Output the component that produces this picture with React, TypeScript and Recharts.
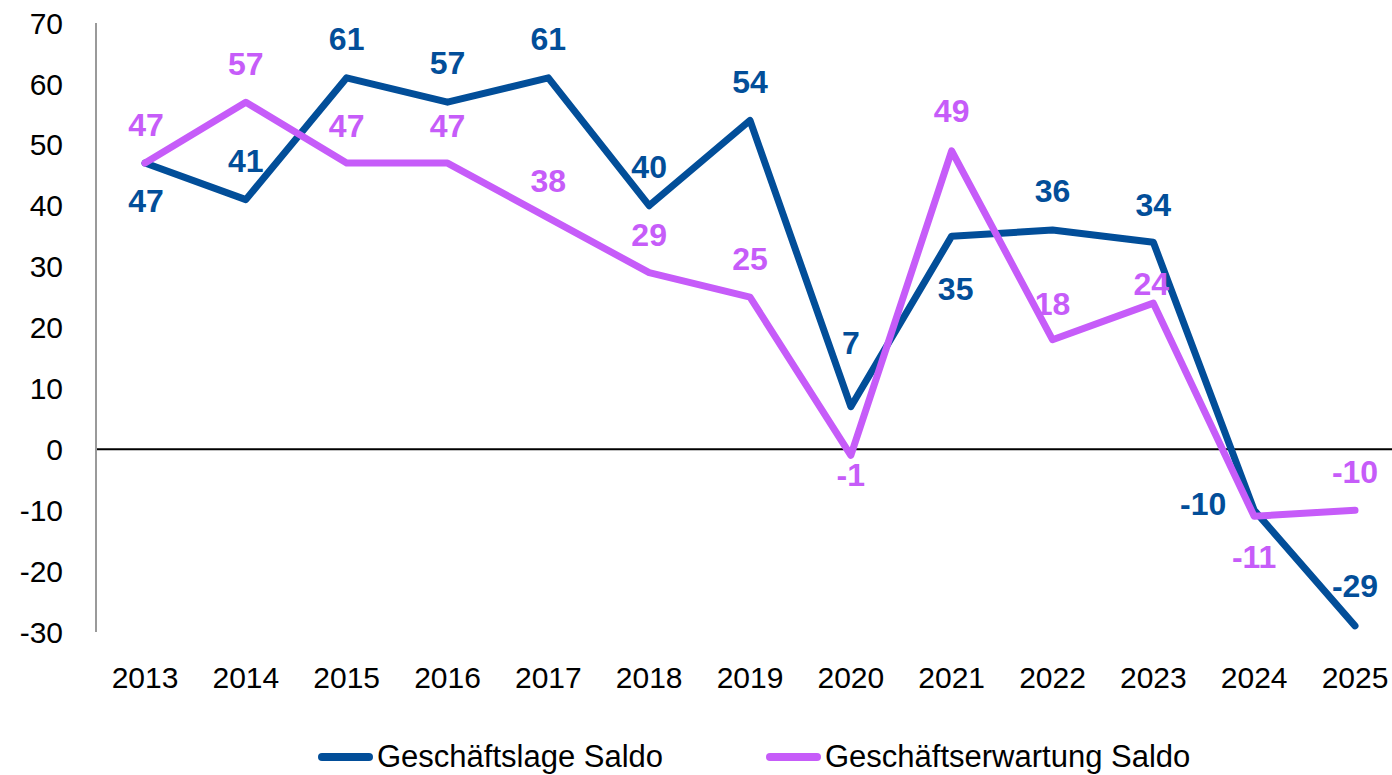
import React from 'react';
import { LineChart, Line, XAxis, YAxis, ReferenceLine, LabelList, Legend } from 'recharts';

const years = ['2013', '2014', '2015', '2016', '2017', '2018', '2019', '2020', '2021', '2022', '2023', '2024', '2025'];
const lageSaldo = [47, 41, 61, 57, 61, 40, 54, 7, 35, 36, 34, -10, -29];
const erwartungSaldo = [47, 57, 47, 47, 38, 29, 25, -1, 49, 18, 24, -11, -10];
const yTicks = [-30, -20, -10, 0, 10, 20, 30, 40, 50, 60, 70];
const seriesNames = ['Geschäftslage Saldo', 'Geschäftserwartung Saldo'];

const BLUE = '#024E99';
const VIOLET = '#C65CF9';
const FONT = '"Liberation Sans", Arial, Helvetica, sans-serif';

// label placement relative to each point (style only)
const lageLabelShift: [number, number][] = [
  [1, 38], [0, -39], [0, -39], [0, -39], [0, -39], [0, -39], [0, -38],
  [0, -64], [4, 53], [0, -39], [0, -37], [-51, -6], [0, -40],
];
const erwartungLabelShift: [number, number][] = [
  [1, -38], [0, -38], [0, -37], [0, -37], [0, -37], [0, -38], [0, -38],
  [0, 20], [0, -40], [0, -36], [-2, -19], [0, 41], [0, -38],
];

const data = years.map((year, i) => ({ year, lage: lageSaldo[i], erwartung: erwartungSaldo[i] }));

function makeLabel(color: string, shifts: [number, number][]) {
  return (props: any) => {
    const { x, y, value, index } = props;
    const [dx, dy] = shifts[index] ?? [0, -38];
    return (
      <text
        x={Number(x) + dx}
        y={Number(y) + dy + 11}
        textAnchor="middle"
        fill={color}
        fontSize={32}
        fontWeight={700}
        fontFamily={FONT}
      >
        {value}
      </text>
    );
  };
}

const legendItems = [
  { name: seriesNames[0], color: BLUE, left: 318 },
  { name: seriesNames[1], color: VIOLET, left: 766 },
];

const renderLegend = () => (
  <div style={{ position: 'relative', height: 36, width: 1392, fontFamily: FONT, fontSize: 31, color: '#000' }}>
    {legendItems.map((it) => (
      <div
        key={it.name}
        style={{ position: 'absolute', left: it.left, top: 0, height: 36, display: 'flex', alignItems: 'center', whiteSpace: 'nowrap' }}
      >
        <span style={{ display: 'inline-block', width: 55, height: 8, borderRadius: 4, background: it.color, marginRight: 4 }} />
        <span style={{ lineHeight: '36px' }}>{it.name}</span>
      </div>
    ))}
  </div>
);

export default function App() {
  return (
    <div style={{ position: 'absolute', left: 0, top: 0, width: 1392, height: 775, background: '#fff', overflow: 'hidden' }}>
      <LineChart width={1392} height={775} data={data} margin={{ top: 23, right: 0, bottom: 0, left: 0 }}>
        <XAxis
          dataKey="year"
          axisLine={false}
          tickLine={false}
          tickSize={0}
          tickMargin={35}
          height={107}
          interval={0}
          padding={{ left: 49, right: 37 }}
          tick={{ fill: '#000', fontSize: 30, fontFamily: FONT }}
        />
        <YAxis
          domain={[-30, 70]}
          ticks={yTicks}
          interval={0}
          width={96}
          axisLine={{ stroke: '#9a9a9a', strokeWidth: 2 }}
          tickLine={false}
          tickSize={0}
          tickMargin={33}
          tick={{ fill: '#000', fontSize: 30, fontFamily: FONT }}
        />
        <ReferenceLine y={0} stroke="#000" strokeWidth={2} />
        <Legend verticalAlign="bottom" content={renderLegend} />
        <Line
          type="linear"
          dataKey="lage"
          name={seriesNames[0]}
          stroke={BLUE}
          strokeWidth={7}
          strokeLinecap="round"
          strokeLinejoin="round"
          dot={false}
          activeDot={false}
          isAnimationActive={false}
        >
          <LabelList dataKey="lage" content={makeLabel(BLUE, lageLabelShift)} />
        </Line>
        <Line
          type="linear"
          dataKey="erwartung"
          name={seriesNames[1]}
          stroke={VIOLET}
          strokeWidth={7}
          strokeLinecap="round"
          strokeLinejoin="round"
          dot={false}
          activeDot={false}
          isAnimationActive={false}
        >
          <LabelList dataKey="erwartung" content={makeLabel(VIOLET, erwartungLabelShift)} />
        </Line>
      </LineChart>
    </div>
  );
}
